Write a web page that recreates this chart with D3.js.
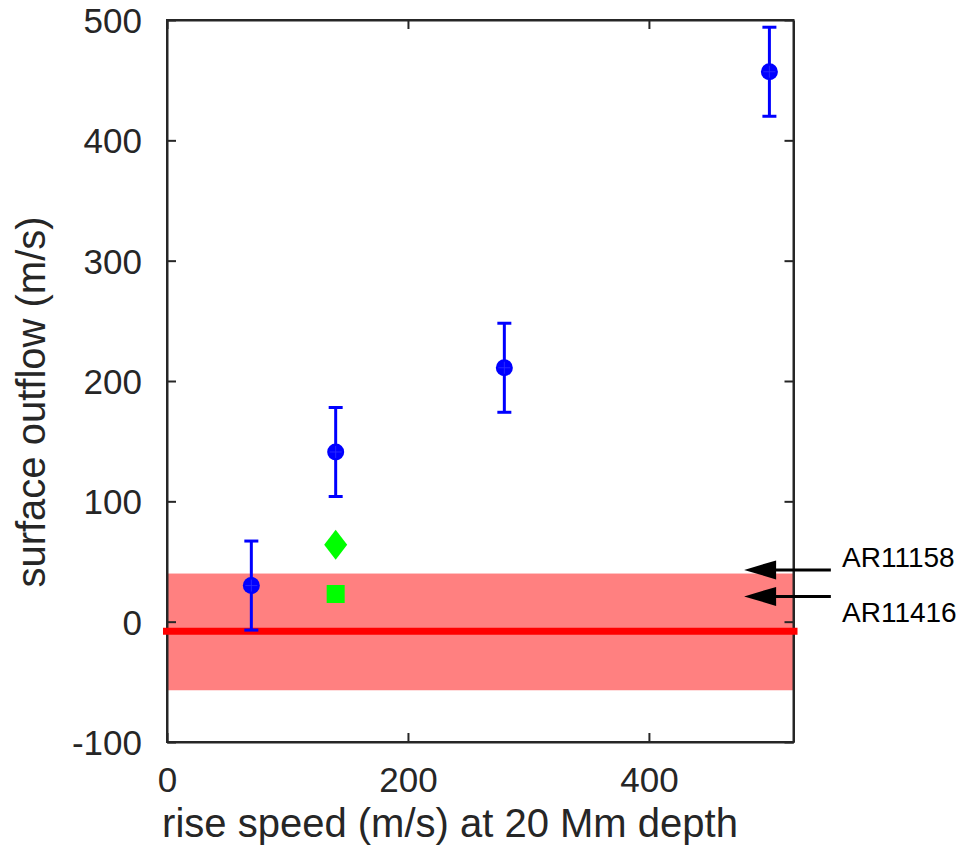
<!DOCTYPE html>
<html>
<head>
<meta charset="utf-8">
<script src="https://cdn.jsdelivr.net/npm/d3@7"></script>
<style>
  body { margin: 0; background: #fff; }
  svg { display: block; font-family: "Liberation Sans", Arial, sans-serif; }
</style>
</head>
<body>
<svg id="chart" width="964" height="849"></svg>
<script>
// measured points with symmetric error bars
const riseSpeed = [70, 140, 280, 500];
const outflow = [30, 141, 211, 457];
const outflowErr = [37, 37, 37, 37];

// active regions (green markers)
const arDiamond = { x: 140, y: 64 };
const arSquare = { x: 140, y: 23 };

// quiet-sun reference: mean and band
const refMean = -8;
const refBand = [-57, 40];

// annotation arrows (data coords) and labels
const arrowLabels = ['AR11158', 'AR11416'];
const arrowY = [43, 21];
const arrowTipX = 479;
const arrowTailX = 551;

const xTicks = [0, 200, 400];
const yTicks = [-100, 0, 100, 200, 300, 400, 500];

const ink = '#262626';
const svg = d3.select('#chart');

const x = d3.scaleLinear().domain([0, 520]).range([167, 793.5]);
const y = d3.scaleLinear().domain([-100, 500]).range([742, 20]);

// plain hyphen for negatives, like the original
const fmt = d => String(d);

// red band
svg.append('rect')
  .attr('x', x(0)).attr('width', x(520) - x(0))
  .attr('y', y(refBand[1])).attr('height', y(refBand[0]) - y(refBand[1]))
  .attr('fill', '#ff8080');

// axes box with inward ticks
const tickLen = 9;
const gx = svg.append('g').attr('transform', `translate(0,${y(-100)})`)
  .call(d3.axisBottom(x).tickValues(xTicks).tickSizeInner(-tickLen).tickSizeOuter(0).tickFormat(fmt));
const gxTop = svg.append('g').attr('transform', `translate(0,${y(500)})`)
  .call(d3.axisTop(x).tickValues(xTicks).tickSizeInner(-tickLen).tickSizeOuter(0).tickFormat(''));
const gy = svg.append('g').attr('transform', `translate(${x(0)},0)`)
  .call(d3.axisLeft(y).tickValues(yTicks).tickSizeInner(-tickLen).tickSizeOuter(0).tickPadding(25).tickFormat(fmt));
const gyRight = svg.append('g').attr('transform', `translate(${x(520)},0)`)
  .call(d3.axisRight(y).tickValues(yTicks).tickSizeInner(-tickLen).tickSizeOuter(0).tickFormat(''));

[gx, gxTop, gy, gyRight].forEach(g => {
  g.select('.domain').attr('stroke', ink).attr('stroke-width', 2);
  g.selectAll('.tick line').attr('stroke', ink).attr('stroke-width', 2);
  g.selectAll('.tick text').attr('fill', ink).attr('font-size', 35)
    .attr('font-family', '"Liberation Sans", Arial, sans-serif');
});
gx.selectAll('.tick text').attr('dy', null).attr('y', 50);
gy.selectAll('.tick text').attr('dy', '0.36em');
gxTop.selectAll('.tick line').attr('y2', tickLen);
gyRight.selectAll('.tick line').attr('x2', -tickLen);

// square the box corners
svg.append('path')
  .attr('d', `M${x(0)},${y(-100)}V${y(500)}H${x(520)}V${y(-100)}Z`)
  .attr('fill', 'none').attr('stroke', ink).attr('stroke-width', 2);

// red mean line
svg.append('line')
  .attr('x1', x(0) - 4).attr('x2', x(520) + 4)
  .attr('y1', y(refMean)).attr('y2', y(refMean))
  .attr('stroke', '#ff0000').attr('stroke-width', 7);

// error bars
const pts = riseSpeed.map((v, i) => ({ x: v, y: outflow[i], e: outflowErr[i] }));
const eb = svg.append('g').attr('stroke', '#0000ff').attr('stroke-width', 3);
eb.selectAll('line.v').data(pts).join('line').attr('class', 'v')
  .attr('x1', d => x(d.x)).attr('x2', d => x(d.x))
  .attr('y1', d => y(d.y + d.e)).attr('y2', d => y(d.y - d.e));
eb.selectAll('line.top').data(pts).join('line').attr('class', 'top')
  .attr('x1', d => x(d.x) - 7).attr('x2', d => x(d.x) + 7)
  .attr('y1', d => y(d.y + d.e)).attr('y2', d => y(d.y + d.e));
eb.selectAll('line.bot').data(pts).join('line').attr('class', 'bot')
  .attr('x1', d => x(d.x) - 7).attr('x2', d => x(d.x) + 7)
  .attr('y1', d => y(d.y - d.e)).attr('y2', d => y(d.y - d.e));

svg.append('g').selectAll('circle').data(pts).join('circle')
  .attr('cx', d => x(d.x)).attr('cy', d => y(d.y)).attr('r', 8.5)
  .attr('fill', '#0000ff');
// faint cross inside markers
const cross = svg.append('g').attr('stroke', '#3030ff').attr('stroke-width', 0.8);
cross.selectAll('line.h').data(pts).join('line')
  .attr('x1', d => x(d.x) - 6).attr('x2', d => x(d.x) + 6)
  .attr('y1', d => y(d.y)).attr('y2', d => y(d.y));
cross.selectAll('line.vv').data(pts).join('line')
  .attr('x1', d => x(d.x)).attr('x2', d => x(d.x))
  .attr('y1', d => y(d.y) - 6).attr('y2', d => y(d.y) + 6);

// green markers
svg.append('path')
  .attr('transform', `translate(${x(arDiamond.x)},${y(arDiamond.y)})`)
  .attr('d', 'M0,-15L11.5,0L0,15L-11.5,0Z')
  .attr('fill', '#00ff00');
svg.append('rect')
  .attr('x', x(arSquare.x) - 9).attr('y', y(arSquare.y) - 9)
  .attr('width', 18).attr('height', 18)
  .attr('fill', '#00ff00');

// arrows + labels
arrowY.forEach((v, i) => {
  const yy = y(v);
  const tip = x(arrowTipX), tail = x(arrowTailX);
  svg.append('line')
    .attr('x1', tip + 20).attr('x2', tail)
    .attr('y1', yy).attr('y2', yy)
    .attr('stroke', '#000').attr('stroke-width', 3);
  svg.append('path')
    .attr('d', `M${tip},${yy}L${tip + 32},${yy - 9.5}L${tip + 32},${yy + 9.5}Z`)
    .attr('fill', '#000');
});
svg.append('text').attr('x', 842).attr('y', 567)
  .attr('font-size', 28).attr('fill', '#000').text(arrowLabels[0]);
svg.append('text').attr('x', 842).attr('y', 622)
  .attr('font-size', 28).attr('fill', '#000').text(arrowLabels[1]);

// axis titles
svg.append('text')
  .attr('x', 450).attr('y', 837)
  .attr('text-anchor', 'middle').attr('font-size', 40).attr('fill', ink)
  .text('rise speed (m/s) at 20 Mm depth');
svg.append('text')
  .attr('transform', 'translate(45,402) rotate(-90)')
  .attr('text-anchor', 'middle').attr('font-size', 40).attr('fill', ink)
  .text('surface outflow (m/s)');
</script>
</body>
</html>
